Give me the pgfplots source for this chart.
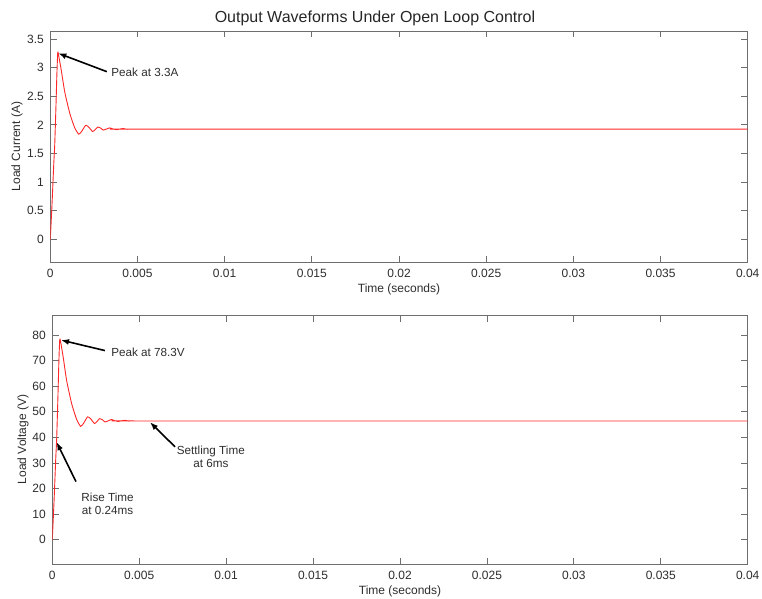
\documentclass[border=0pt]{standalone}
\usepackage{pgfplots}
\pgfplotsset{compat=1.18}
\usepackage{pgfplotstable}
\usepackage{fontspec}
\setmainfont{Liberation Sans}
\usetikzlibrary{arrows.meta}
\definecolor{axgray}{RGB}{110,110,110}
\definecolor{txtgray}{RGB}{45,45,45}
\definecolor{wave}{RGB}{255,40,40}

\pgfplotstableread{
t I V
0 0 0
0.0001 0.622 15
0.0002 1.328 32
0.00025 1.618 39
0.00032 2.282 55
0.00038 2.905 70
0.00043 3.27 78.3
0.0005 3.174 76.5
0.00063 2.954 71.2
0.00083 2.573 62
0.00112 2.199 53
0.0014 1.950 47
0.00163 1.838 44.3
0.0018 1.888 45.5
0.00203 1.992 48.0
0.0022 1.963 47.3
0.00243 1.884 45.4
0.0026 1.925 46.4
0.00272 1.963 47.3
0.0029 1.942 46.8
0.00303 1.909 46.0
0.0032 1.925 46.4
0.0034 1.948 46.95
0.0036 1.929 46.5
0.0038 1.917 46.2
0.0040 1.929 46.5
0.0042 1.936 46.65
0.0044 1.923 46.35
0.0047 1.927 46.45
0.005 1.925 46.4
0.04 1.925 46.4
}\wavedata

\pgfplotsset{
  myaxis/.style={
    scale only axis,
    anchor=south west,
    xmin=0, xmax=0.04,
    xtick={0,0.005,0.01,0.015,0.02,0.025,0.03,0.035,0.04},
    xticklabels={0,0.005,0.01,0.015,0.02,0.025,0.03,0.035,0.04},
    scaled x ticks=false,
    scaled y ticks=false,
    tick align=inside,
    major tick length=6.5pt,
    axis line style={axgray, line width=0.8pt},
    every tick/.style={axgray, line width=0.8pt},
    tick label style={font=\fontsize{12}{14}\selectfont, text=txtgray},
    label style={font=\fontsize{12}{14}\selectfont, text=txtgray},
    xticklabel style={anchor=center, yshift=-11pt},
    yticklabel style={xshift=-3pt},
    /pgf/number format/assume math mode=true,
    xlabel={Time (seconds)},
    xlabel style={at={(axis description cs:0.5,0)}, anchor=center, yshift=-27pt},
  }
}

\begin{document}
\begin{tikzpicture}
\useasboundingbox (0,0) rectangle (762pt,598pt);

\node[font=\fontsize{16}{19}\selectfont, text=black!85] at (375pt,580pt) {Output Waveforms Under Open Loop Control};

\begin{axis}[myaxis,
  at={(50.3pt,335.7pt)},
  width=697.4pt, height=231.3pt,
  ymin=-0.4, ymax=3.64,
  ytick={0,0.5,1,1.5,2,2.5,3,3.5},
  yticklabels={0,0.5,1,1.5,2,2.5,3,3.5},
  ylabel={Load Current (A)},
  ylabel style={at={(axis description cs:-0.0478,0.5)}, anchor=center},
]
\addplot[wave, line width=0.9pt, smooth, tension=0.35] table[x=t, y=I] {\wavedata};
\draw[-{Latex[length=8pt,width=6pt]}, line width=1.6pt, black] (axis cs:0.00324,2.93) -- (axis cs:0.00046,3.25);
\node[anchor=west, inner sep=0pt, font=\fontsize{11.7}{12.6}\selectfont, text=txtgray] at (axis cs:0.00349,2.92) {Peak at 3.3A};
\end{axis}

\begin{axis}[myaxis,
  at={(52.3pt,34pt)},
  width=695.4pt, height=249pt,
  ymin=-9.5, ymax=87.8,
  ytick={0,10,20,30,40,50,60,70,80},
  ylabel={Load Voltage (V)},
  ylabel style={at={(axis description cs:-0.0421,0.5)}, anchor=center},
]
\addplot[wave, line width=0.9pt, smooth, tension=0.35] table[x=t, y=V] {\wavedata};
\draw[-{Latex[length=8pt,width=6pt]}, line width=1.6pt, black] (axis cs:0.00303,73.9) -- (axis cs:0.0005,78.0);
\node[anchor=west, inner sep=0pt, font=\fontsize{11.7}{12.6}\selectfont, text=txtgray] at (axis cs:0.00338,73.1) {Peak at 78.3V};
\draw[-{Latex[length=8pt,width=6pt]}, line width=1.6pt, black] (axis cs:0.00706,36.3) -- (axis cs:0.00562,45.9);
\node[align=center, inner sep=0pt, font=\fontsize{11.7}{12.6}\selectfont, text=txtgray] at (axis cs:0.00912,32.3) {Settling Time\\at 6ms};
\draw[-{Latex[length=8pt,width=6pt]}, line width=1.6pt, black] (axis cs:0.00136,22.7) -- (axis cs:0.00025,38.1);
\node[align=center, inner sep=0pt, font=\fontsize{11.7}{12.6}\selectfont, text=txtgray] at (axis cs:0.00318,14.1) {Rise Time\\at 0.24ms};
\end{axis}
\end{tikzpicture}
\end{document}
